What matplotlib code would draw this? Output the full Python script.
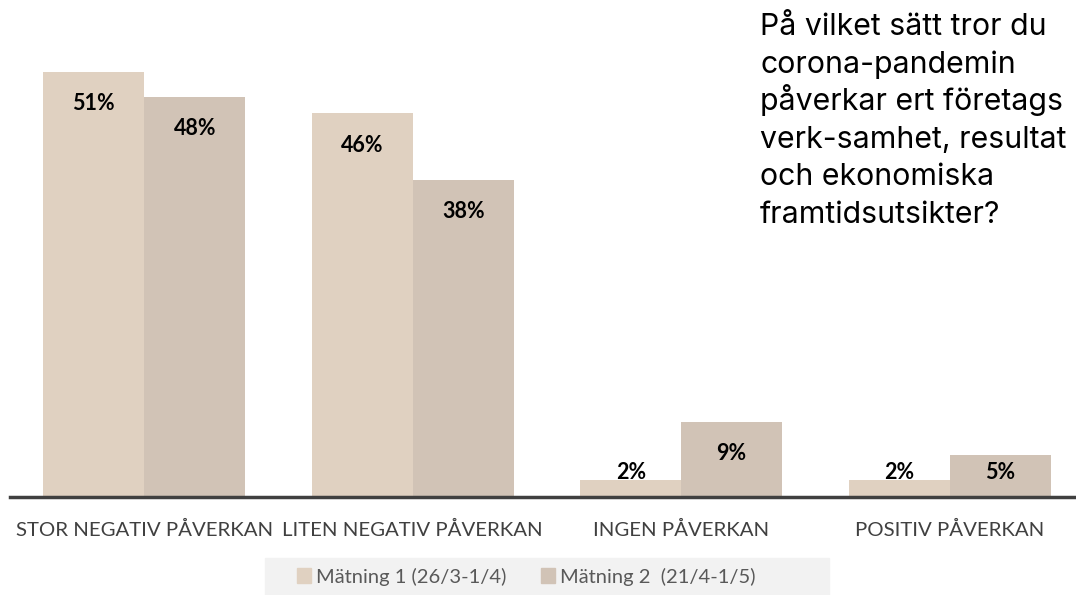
import matplotlib.pyplot as plt
import numpy as np
from matplotlib.patches import Patch

categories = ['STOR NEGATIV PÅVERKAN', 'LITEN NEGATIV PÅVERKAN', 'INGEN PÅVERKAN', 'POSITIV PÅVERKAN']
matning1 = [51, 46, 2, 2]
matning2 = [48, 38, 9, 5]
series_names = ['Mätning 1 (26/3-1/4)', 'Mätning 2  (21/4-1/5)']
title_lines = ['På vilket sätt tror du', 'corona-pandemin', 'påverkar ert företags',
               'verk-samhet, resultat', 'och ekonomiska', 'framtidsutsikter?']

col1 = '#E0D1C1'
col2 = '#D1C3B6'

fig = plt.figure(figsize=(10.76, 5.95), dpi=100)
ax = fig.add_axes([0.0093, 0.1647, 0.998, 0.8353])

x = np.arange(len(categories))
w = 0.376
ax.bar(x - w / 2, matning1, width=w, color=col1, zorder=2)
ax.bar(x + w / 2, matning2, width=w, color=col2, zorder=2)

# labels sit ~30px under the bar top, but never lower than ~24px above the axis
for xs, vals in [(x - w / 2, matning1), (x + w / 2, matning2)]:
    for xi, v in zip(xs, vals):
        ax.text(xi, max(v - 3.8, 2.9), f'{v}%', ha='center', va='center',
                fontsize=15.5, fontweight='bold', family='Lato', color='black', zorder=3)

ax.set_xlim(-0.5, 3.5)
ax.set_ylim(0, 59.6)
ax.set_yticks([])
ax.set_xticks(x)
ax.set_xticklabels(categories, fontsize=14.7, family='Lato', color='#404040')
ax.tick_params(axis='x', length=0, pad=17)
for s in ['top', 'right', 'left']:
    ax.spines[s].set_visible(False)
ax.spines['bottom'].set_color('#404040')
ax.spines['bottom'].set_linewidth(2.5)

# question text, one line at a time so the spacing stays even
for i, line in enumerate(title_lines):
    y_px = 35 + 37.6 * i
    fig.text(760 / 1076, 1 - y_px / 595, line, ha='left', va='baseline', fontsize=21.8,
             family='Inter', color='black')

# legend strip
fig.patches.append(plt.Rectangle((0.2463, 0.0), 0.524, 0.062, transform=fig.transFigure,
                                 color='#F2F2F2', zorder=0))
handles = [Patch(color=col1), Patch(color=col2)]
leg = fig.legend(handles, series_names, loc='center', bbox_to_anchor=(0.489, 0.031),
                 ncol=2, frameon=False, handlelength=0.7, handleheight=0.7,
                 handletextpad=0.25, columnspacing=1.7, prop={'family': 'Lato', 'size': 14.5})
for t in leg.get_texts():
    t.set_color('#595959')

fig.savefig('out.png', dpi=100)
